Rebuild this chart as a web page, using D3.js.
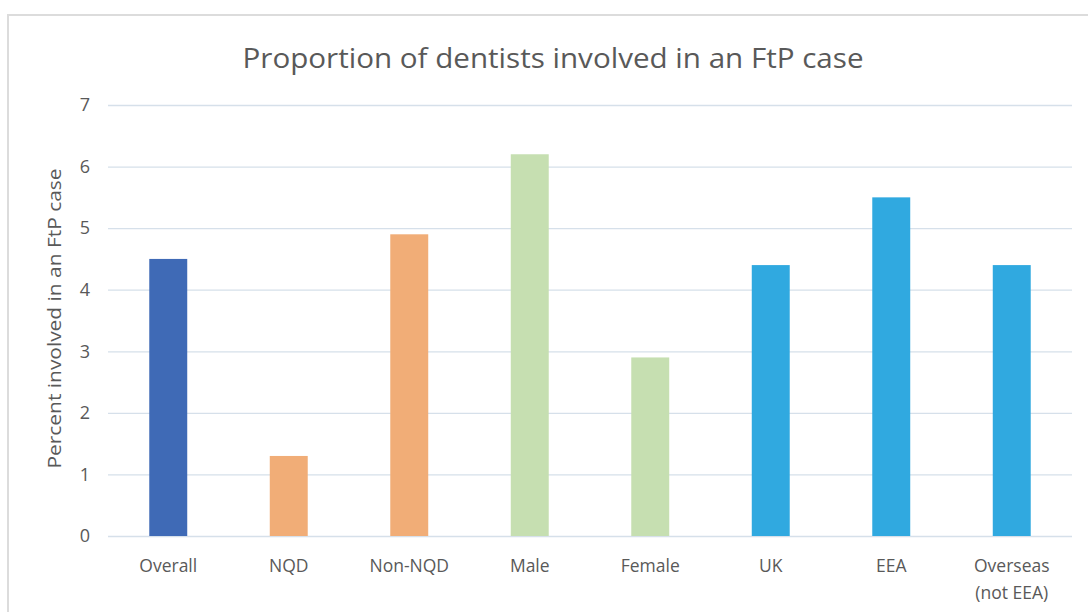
<!DOCTYPE html>
<html>
<head>
<meta charset="utf-8">
<script src="https://cdn.jsdelivr.net/npm/d3@7"></script>
<style>
  body { margin: 0; background: #fff; }
  text { font-family: "Open Sans", sans-serif; fill: #595959; }
</style>
</head>
<body>
<div id="chart-area"></div>
<script>
const categories = ["Overall", "NQD", "Non-NQD", "Male", "Female", "UK", "EEA", "Overseas\n(not EEA)"];
const values = [4.5, 1.3, 4.9, 6.2, 2.9, 4.4, 5.5, 4.4];
const groups = ["all", "nqd", "nqd", "sex", "sex", "origin", "origin", "origin"];
const yTicks = [0, 1, 2, 3, 4, 5, 6, 7];
const chartTitle = "Proportion of dentists involved in an FtP case";
const yLabel = "Percent involved in an FtP case";

const groupColor = { all: "#3f6ab6", nqd: "#f1ad77", sex: "#c6dfb1", origin: "#30a9e0" };

const W = 1088, H = 612;
const margin = { top: 105, right: 16, bottom: 76, left: 108 };
const width = W - margin.left - margin.right;
const height = H - margin.top - margin.bottom;

const svg = d3.select('#chart-area')
    .append('svg')
    .attr("width", W)
    .attr("height", H);

// chart frame
svg.append("rect")
    .attr("x", 8).attr("y", 15)
    .attr("width", W + 10).attr("height", H + 10)
    .attr("fill", "#fff")
    .attr("stroke", "#dcdcdc")
    .attr("stroke-width", 2);

const g = svg.append("g")
    .attr("transform", `translate(${margin.left}, ${margin.top})`);

const x = d3.scaleBand()
    .domain(categories)
    .range([0, width])
    .paddingInner(0.685)
    .paddingOuter(0.3425);

const y = d3.scaleLinear()
    .domain([0, 7])
    .range([height, 0]);

// gridlines
g.append("g")
    .attr("class", "grid")
    .call(d3.axisLeft(y).tickValues(yTicks).tickSize(-width).tickFormat(""))
    .call(s => s.select(".domain").remove())
    .selectAll("line")
    .attr("stroke", "#d6e0ea")
    .attr("stroke-width", 1.3);

// y tick labels
g.append("g")
    .call(d3.axisLeft(y).tickValues(yTicks).tickSize(0).tickPadding(18).tickFormat(d3.format("d")))
    .call(s => s.select(".domain").remove())
    .selectAll("text")
    .attr("font-size", "18px")
    .style("font-family", "Open Sans, sans-serif")
    .attr("fill", "#595959");

// bars
g.selectAll("rect.bar")
    .data(categories)
    .enter()
    .append("rect")
    .attr("class", "bar")
    .attr("x", d => x(d))
    .attr("width", x.bandwidth())
    .attr("y", (d, i) => y(values[i]))
    .attr("height", (d, i) => y(0) - y(values[i]))
    .attr("fill", (d, i) => groupColor[groups[i]]);

// x labels
const xl = g.append("g")
    .selectAll("text")
    .data(categories)
    .enter()
    .append("text")
    .attr("x", d => x(d) + x.bandwidth() / 2)
    .attr("y", height + 36)
    .attr("text-anchor", "middle")
    .attr("font-size", "17.5px");
xl.each(function (d) {
    const lines = d.split("\n");
    const t = d3.select(this);
    lines.forEach((ln, k) => {
        t.append("tspan")
            .attr("x", t.attr("x"))
            .attr("dy", k === 0 ? 0 : 27)
            .text(ln);
    });
});

// title
svg.append("text")
    .attr("x", 553)
    .attr("y", 68)
    .attr("text-anchor", "middle")
    .attr("font-size", "28px")
    .attr("textLength", 621)
    .attr("lengthAdjust", "spacingAndGlyphs")
    .text(chartTitle);

// y axis label
svg.append("text")
    .attr("transform", `translate(61, ${margin.top + height / 2 - 2}) rotate(-90)`)
    .attr("text-anchor", "middle")
    .attr("font-size", "18.5px")
    .attr("textLength", 300)
    .attr("lengthAdjust", "spacingAndGlyphs")
    .text(yLabel);
</script>
</body>
</html>
